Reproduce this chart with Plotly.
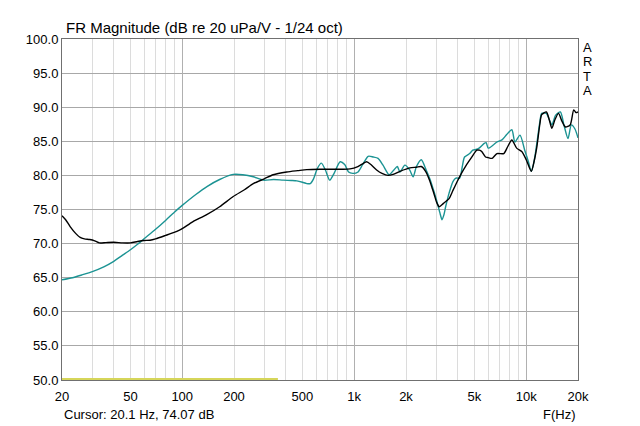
import plotly.graph_objects as go
import numpy as np

# ---- data ----
black_f = [20, 21, 22.3, 24, 25.5, 27, 29, 31, 33, 36, 40, 45, 50, 55, 60, 65, 70, 80, 93, 100,
           115, 138, 165, 198, 230, 259, 300, 338, 405, 470, 530, 632, 750, 850, 946, 1050, 1120,
           1180, 1250, 1350, 1450, 1574, 1700, 1846, 2107, 2300, 2454, 2600, 2741, 2850, 2926,
           3020, 3122, 3300, 3560, 3750, 3970, 4200, 4430, 4800, 5160, 5350, 5510, 5800, 6010,
           6340, 6760, 7400, 7800, 8250, 8800, 9420, 10000, 10700, 11100, 11500, 12000, 12300,
           13100, 13600, 14100, 14700, 15400, 16100, 16900, 18000, 18900, 19500, 20000]
black_db = [74.1, 73.5, 72.5, 71.5, 70.9, 70.7, 70.6, 70.4, 70.1, 70.15, 70.2, 70.1, 70.1, 70.3,
            70.45, 70.5, 70.7, 71.2, 71.8, 72.2, 73.2, 74.2, 75.4, 76.9, 77.9, 78.8, 79.5, 80.1,
            80.5, 80.7, 80.85, 80.9, 80.9, 80.9, 80.95, 81.3, 81.7, 82.0, 81.6, 80.8, 80.3, 80.0,
            80.2, 80.6, 81.1, 81.2, 81.3, 80.6, 79.3, 78.0, 77.1, 76.0, 75.4, 75.9, 76.6, 77.8,
            79.1, 80.3, 81.3, 82.6, 83.7, 83.7, 83.5, 82.7, 82.6, 82.5, 83.2, 83.2, 84.2, 85.2,
            84.0, 83.5, 82.3, 80.6, 82.0, 84.0, 87.5, 88.9, 89.3, 88.2, 86.9, 88.2, 89.1, 88.0,
            87.1, 87.4, 89.6, 89.2, 89.3]

teal_f = [20, 23, 26, 30, 35, 40, 45, 50, 55, 60, 70, 80, 90, 100, 120, 140, 165, 198, 225, 259,
          296, 340, 386, 430, 464, 500, 530, 555, 580, 610, 644, 680, 720, 760, 829, 880, 927,
          980, 1052, 1120, 1206, 1290, 1376, 1470, 1597, 1700, 1780, 1846, 1970, 2100, 2200,
          2300, 2454, 2620, 2750, 2870, 2960, 3060, 3150, 3240, 3320, 3400, 3560, 3750, 3900,
          4100, 4250, 4380, 4690, 4890, 5100, 5320, 5700, 5850, 6010, 6460, 6760, 7230, 7700,
          8250, 8600, 9200, 9800, 10300, 10700, 11100, 11500, 12000, 12300, 13100, 13600,
          14100, 14800, 15800, 16600, 17500, 18300, 19200, 20000]
teal_db = [64.7, 65.0, 65.4, 65.9, 66.6, 67.4, 68.3, 69.1, 69.9, 70.7, 72.1, 73.4, 74.6, 75.6,
           77.2, 78.4, 79.4, 80.15, 80.1, 79.8, 79.3, 79.4, 79.3, 79.25, 79.2, 79.0, 78.8, 78.8,
           79.5, 81.0, 81.8, 80.8, 79.3, 80.2, 82.0, 81.6, 80.5, 80.3, 80.5, 81.6, 82.8, 82.7,
           82.5, 81.5, 80.1, 80.8, 81.3, 80.5, 81.5, 80.8, 79.8, 81.3, 82.3, 80.8, 79.5, 78.1,
           77.0, 75.7, 74.5, 73.5, 74.2, 75.4, 77.4, 79.1, 79.6, 79.6, 81.3, 82.7, 83.2, 83.7,
           83.8, 84.0, 84.7, 84.8, 84.0, 84.5, 84.9, 85.2, 86.0, 86.7, 84.9, 85.9, 83.7, 82.0,
           80.6, 82.0, 84.5, 87.8, 89.1, 89.1, 88.2, 87.4, 88.8, 89.3, 87.3, 85.4, 87.4, 86.8,
           85.5]

cursor_f = [20, 360]
cursor_db = [50, 50]

x_tick_vals = [20, 50, 100, 200, 500, 1000, 2000, 5000, 10000, 20000]
x_tick_text = ["20", "50", "100", "200", "500", "1k", "2k", "5k", "10k", "20k"]
minor_grid = [v * d for d in (10, 100, 1000) for v in range(2, 10)] + [20000]
major_grid = [100, 1000, 10000]
y_ticks = [50 + 5 * i for i in range(11)]

FONT = "Liberation Sans, Arial, sans-serif"
xr = [np.log10(20), np.log10(20000)]

fig = go.Figure()
fig.add_trace(go.Scatter(x=cursor_f, y=cursor_db, mode="lines",
                         line=dict(color="#d6d65a", width=4), hoverinfo="skip"))
fig.add_trace(go.Scatter(x=teal_f, y=teal_db, mode="lines",
                         line=dict(color="#1b9393", width=1.4, shape="spline", smoothing=0.7)))
fig.add_trace(go.Scatter(x=black_f, y=black_db, mode="lines",
                         line=dict(color="#000000", width=1.4, shape="spline", smoothing=0.7)))
# overlay axis used only for the darker decade grid lines
fig.add_trace(go.Scatter(x=[20], y=[50], xaxis="x2", mode="markers",
                         marker=dict(opacity=0), hoverinfo="skip"))

fig.update_layout(
    width=640, height=426,
    margin=dict(l=62, r=62, t=39, b=46),
    paper_bgcolor="white", plot_bgcolor="white",
    showlegend=False,
    font=dict(family=FONT, size=13, color="#000000"),
    xaxis=dict(type="log", range=xr, tickvals=x_tick_vals, ticktext=x_tick_text,
               showgrid=False, zeroline=False, ticks="", ticklen=0, ticklabelstandoff=4,
               showline=True, linecolor="#707070", linewidth=1, mirror=True,
               tickfont=dict(size=13),
               minor=dict(tickvals=minor_grid, showgrid=True, gridcolor="#dcdcdc",
                          gridwidth=1, ticks="")),
    xaxis2=dict(type="log", range=xr, overlaying="x", tickvals=major_grid,
                showticklabels=False, showgrid=True, gridcolor="#b0b0b0", gridwidth=1,
                ticks="", zeroline=False, side="bottom"),
    yaxis=dict(range=[50, 100], tickvals=y_ticks, tickformat=".1f",
               showgrid=True, gridcolor="#a8a8a8", gridwidth=1, zeroline=False,
               ticks="", showline=True, linecolor="#707070", linewidth=1, mirror=True,
               tickfont=dict(size=13)),
)

ann = [
    dict(text="FR Magnitude (dB re 20 uPa/V - 1/24 oct)", x=0, y=1, xref="paper", yref="paper",
         xanchor="left", yanchor="bottom", xshift=2, yshift=1, showarrow=False,
         font=dict(size=15)),
    dict(text="Cursor: 20.1 Hz, 74.07 dB", x=0, y=0, xref="paper", yref="paper",
         xanchor="left", yanchor="top", yshift=-25, showarrow=False, font=dict(size=13)),
    dict(text="F(Hz)", x=1, y=0, xref="paper", yref="paper",
         xanchor="right", yanchor="top", yshift=-25, showarrow=False, font=dict(size=13)),
]
for i, ch in enumerate("ARTA"):
    ann.append(dict(text=ch, x=1, y=1, xref="paper", yref="paper", xanchor="left",
                    yanchor="top", xshift=3, yshift=-(i * 14.3) + 1, showarrow=False,
                    font=dict(size=13)))
fig.update_layout(annotations=ann)

fig.write_html("out.html")
